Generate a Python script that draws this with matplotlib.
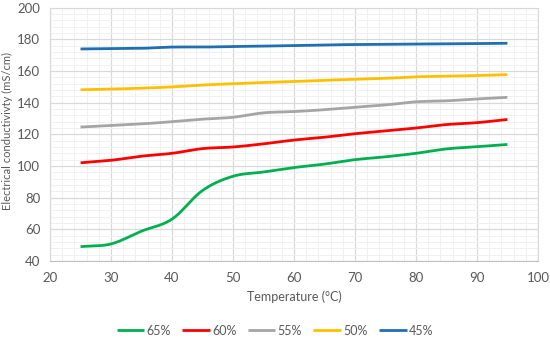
import numpy as np
import matplotlib.pyplot as plt
from matplotlib.ticker import MultipleLocator

temperature = [25, 30, 35, 40, 45, 50, 55, 60, 65, 70, 75, 80, 85, 90, 95]

c65 = [49, 50.7, 58.8, 66.4, 84.5, 93.5, 96.2, 99, 101.2, 104, 105.8, 108, 110.8, 112.2, 113.6]
c60 = [102, 103.6, 106.2, 108, 111, 112, 114, 116.4, 118.2, 120.4, 122.2, 124, 126.2, 127.4, 129.4]
c55 = [124.6, 125.6, 126.6, 128, 129.6, 130.8, 133.6, 134.4, 135.6, 137.2, 138.6, 140.6, 141.2, 142.4, 143.4]
c50 = [148.2, 148.6, 149.2, 150, 151.2, 152, 152.8, 153.4, 154.2, 154.8, 155.4, 156.4, 156.8, 157.2, 157.8]
c45 = [174, 174.2, 174.4, 175.2, 175.2, 175.6, 175.8, 176.2, 176.6, 176.8, 177, 177.2, 177.3, 177.4, 177.6]

series = [("65%", c65, "#00B050"), ("60%", c60, "#FF0000"), ("55%", c55, "#A5A5A5"),
          ("50%", c50, "#FFC000"), ("45%", c45, "#1F6FB2")]


def smooth(x, y, n=20):
    """Catmull-Rom curve through the points, like Excel's smoothed line"""
    x = np.asarray(x, float)
    y = np.asarray(y, float)
    px = np.concatenate([[2 * x[0] - x[1]], x, [2 * x[-1] - x[-2]]])
    py = np.concatenate([[2 * y[0] - y[1]], y, [2 * y[-1] - y[-2]]])
    xs, ys = [], []
    t = np.linspace(0, 1, n, endpoint=False)
    for i in range(1, len(px) - 2):
        for p, out in ((px, xs), (py, ys)):
            p0, p1, p2, p3 = p[i - 1], p[i], p[i + 1], p[i + 2]
            out.extend(0.5 * (2 * p1 + (-p0 + p2) * t + (2 * p0 - 5 * p1 + 4 * p2 - p3) * t ** 2
                              + (-p0 + 3 * p1 - 3 * p2 + p3) * t ** 3))
    xs.append(x[-1])
    ys.append(y[-1])
    return xs, ys


plt.rcParams["font.family"] = ["Lato", "DejaVu Sans"]
grey = "#595959"

fig = plt.figure(figsize=(5.5, 3.41), dpi=100)
ax = fig.add_axes([0.091, 0.235, 0.887, 0.742])

for label, values, color in series:
    sx, sy = smooth(temperature, values)
    ax.plot(sx, sy, color=color, lw=2, label=label, solid_capstyle="butt")

ax.set_xlim(20, 100)
ax.set_ylim(40, 200)
ax.xaxis.set_major_locator(MultipleLocator(10))
ax.xaxis.set_minor_locator(MultipleLocator(2))
ax.yaxis.set_major_locator(MultipleLocator(20))
ax.yaxis.set_minor_locator(MultipleLocator(4))
ax.grid(which="major", color="#D9D9D9", lw=0.9)
ax.grid(which="minor", color="#F0F0F0", lw=0.7)
ax.set_axisbelow(True)
for side in ax.spines:
    ax.spines[side].set_color("#D9D9D9")
ax.spines["bottom"].set_color("#BFBFBF")
ax.tick_params(which="both", length=0, colors=grey, labelsize=9.5)
ax.tick_params(axis="y", pad=7)
ax.tick_params(axis="x", pad=8)

ax.set_xlabel("Temperature (°C)", color=grey, fontsize=9, labelpad=5)
ax.set_ylabel("Electrical conductivivty (mS/cm)", color=grey, fontsize=8)
ax.yaxis.set_label_coords(-0.076, 0.515)

leg = fig.legend(loc="center", bbox_to_anchor=(0.5, 0.03), ncol=5, frameon=False,
                 fontsize=9, handlelength=2.2, columnspacing=0.9, handletextpad=0.2)
for text in leg.get_texts():
    text.set_color(grey)

fig.savefig("out.png", dpi=100)
